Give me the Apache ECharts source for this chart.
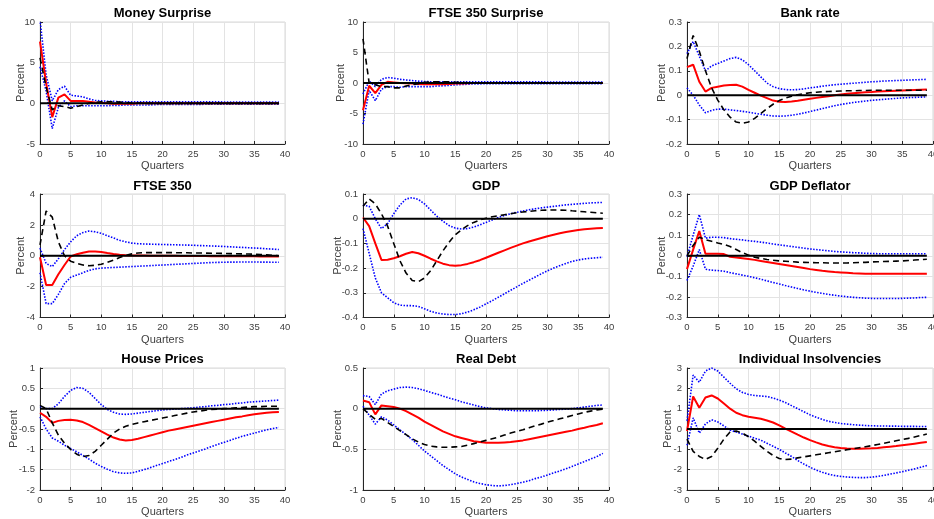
<!DOCTYPE html>
<html>
<head>
<meta charset="utf-8">
<script src="https://cdn.jsdelivr.net/npm/echarts@6/dist/echarts.min.js"></script>
<style>html,body{margin:0;padding:0;background:#fff}#c{width:934px;height:519px}</style>
</head>
<body>
<div id="c"></div>
<script>
const quarters = [0,1,2,3,4,5,6,7,8,9,10,11,12,13,14,15,16,17,18,19,20,21,22,23,24,25,26,27,28,29,30,31,32,33,34,35,36,37,38,39];

// Money Surprise
const msMed = [7.6,2.5,-1.7,0.7,1.1,0.3,0.3,0.3,0.2,0.1, 0.05,0,-0.05,-0.05,-0.05,-0.05,0,0,0,0, 0,0,0,0,0,0,0,0,0,0, 0,0,0,0,0,0,0,0,0,0];
const msUp = [10.3,3.5,0.3,1.7,2.1,1.0,0.9,0.8,0.55,0.35, 0.3,0.25,0.25,0.2,0.2,0.2,0.2,0.2,0.2,0.2, 0.2,0.2,0.2,0.2,0.2,0.2,0.2,0.2,0.2,0.2, 0.15,0.15,0.15,0.15,0.15,0.15,0.15,0.15,0.15,0.15];
const msLo = [4.5,1.5,-3.1,-0.5,0.3,-0.4,-0.3,-0.3,-0.3,-0.3, -0.3,-0.3,-0.25,-0.25,-0.2,-0.2,-0.2,-0.2,-0.2,-0.15, -0.15,-0.15,-0.15,-0.15,-0.15,-0.15,-0.15,-0.1,-0.1,-0.1, -0.1,-0.1,-0.1,-0.1,-0.1,-0.1,-0.1,-0.1,-0.1,-0.1];
const msDash = [5.6,2.0,-0.8,-0.3,-0.4,-0.6,-0.4,-0.2,0,0.1, 0.2,0.2,0.2,0.15,0.1,0.05,0.05,0,0,0, 0,0,0,0,0,0,0,0,0,0, 0,0,0,0,0,0,0,0,0,0];

// FTSE 350 Surprise
const fsMed = [-4.45,-0.45,-1.65,-0.3,0.2,0.1,0,-0.05,-0.1,-0.15, -0.2,-0.2,-0.2,-0.2,-0.15,-0.1,-0.1,-0.05,0,0, 0,0,0,0,0,0,0,0,0,0, 0,0,0,0,0,0,0,0,0,0];
const fsUp = [-1.8,0.3,-0.6,0.6,0.9,0.8,0.6,0.5,0.4,0.3, 0.25,0.2,0.2,0.2,0.2,0.2,0.2,0.2,0.2,0.2, 0.2,0.2,0.2,0.2,0.2,0.2,0.2,0.2,0.2,0.2, 0.15,0.15,0.15,0.15,0.15,0.15,0.15,0.15,0.15,0.15];
const fsLo = [-6.75,-1.2,-2.9,-1.0,-0.6,-0.6,-0.7,-0.6,-0.6,-0.6, -0.6,-0.6,-0.5,-0.45,-0.4,-0.3,-0.25,-0.2,-0.15,-0.15, -0.1,-0.1,-0.1,-0.1,-0.1,-0.1,-0.1,-0.1,-0.1,-0.1, -0.1,-0.1,-0.1,-0.1,-0.1,-0.1,-0.1,-0.1,-0.1,-0.1];
const fsDash = [7.25,0,-0.3,-0.6,-0.6,-0.8,-0.8,-0.5,-0.3,-0.1, 0.1,0.2,0.2,0.2,0.2,0.1,0.1,0.05,0,0, 0,0,0,0,0,0,0,0,0,0, 0,0,0,0,0,0,0,0,0,0];

// Bank rate
const brMed = [0.115,0.125,0.055,0.015,0.03,0.035,0.04,0.042,0.043,0.035, 0.022,0.01,-0.002,-0.012,-0.022,-0.027,-0.028,-0.026,-0.023,-0.019, -0.015,-0.011,-0.007,-0.004,0,0.003,0.006,0.008,0.01,0.012, 0.013,0.015,0.016,0.017,0.018,0.019,0.02,0.021,0.022,0.023];
const brUp = [0.17,0.22,0.16,0.1,0.12,0.13,0.14,0.15,0.155,0.145, 0.125,0.1,0.075,0.05,0.035,0.027,0.023,0.022,0.023,0.026, 0.03,0.033,0.037,0.04,0.043,0.045,0.047,0.049,0.051,0.053, 0.055,0.056,0.058,0.059,0.06,0.061,0.062,0.063,0.064,0.065];
const brLo = [0.03,0,-0.04,-0.072,-0.062,-0.057,-0.057,-0.06,-0.063,-0.066, -0.07,-0.074,-0.078,-0.082,-0.085,-0.086,-0.085,-0.082,-0.078,-0.073, -0.067,-0.061,-0.055,-0.049,-0.043,-0.038,-0.034,-0.03,-0.027,-0.024, -0.021,-0.019,-0.017,-0.015,-0.013,-0.011,-0.01,-0.009,-0.008,-0.007];
const brDash = [0.15,0.245,0.18,0.1,0.03,-0.02,-0.06,-0.09,-0.11,-0.115, -0.11,-0.095,-0.075,-0.055,-0.037,-0.022,-0.012,-0.004,0.002,0.006, 0.01,0.012,0.014,0.015,0.016,0.017,0.018,0.018,0.019,0.019, 0.02,0.02,0.02,0.02,0.02,0.02,0.02,0.02,0.02,0.02];

// FTSE 350
const ftMed = [-0.1,-1.9,-1.9,-1.2,-0.6,-0.05,0.1,0.2,0.28,0.28, 0.25,0.18,0.12,0.07,0.04,0.02,0.01,0.01,0,0, 0,0,0,-0.01,-0.01,-0.02,-0.02,-0.02,-0.03,-0.03, -0.03,-0.03,-0.04,-0.04,-0.04,-0.04,-0.05,-0.05,-0.05,-0.05];
const ftUp = [0.5,-0.5,-0.7,-0.2,0.4,0.9,1.3,1.5,1.6,1.55, 1.45,1.3,1.15,1.0,0.9,0.82,0.78,0.76,0.75,0.74, 0.73,0.72,0.71,0.7,0.69,0.68,0.66,0.65,0.63,0.62, 0.6,0.58,0.56,0.54,0.52,0.5,0.48,0.45,0.43,0.4];
const ftLo = [-1.1,-3.1,-3.1,-2.5,-1.8,-1.4,-1.25,-1.1,-0.95,-0.85, -0.8,-0.78,-0.76,-0.74,-0.72,-0.7,-0.68,-0.66,-0.64,-0.62, -0.6,-0.58,-0.56,-0.54,-0.52,-0.5,-0.48,-0.46,-0.44,-0.43, -0.42,-0.41,-0.41,-0.4,-0.4,-0.4,-0.41,-0.41,-0.42,-0.42];
const ftDash = [0.7,2.9,2.5,0.9,0,-0.35,-0.5,-0.6,-0.65,-0.62, -0.55,-0.42,-0.28,-0.12,0.02,0.12,0.18,0.2,0.2,0.2, 0.2,0.2,0.2,0.19,0.19,0.18,0.18,0.17,0.16,0.16, 0.15,0.14,0.13,0.12,0.11,0.1,0.08,0.06,0.03,0];

// GDP
const gdMed = [0.005,-0.03,-0.1,-0.167,-0.166,-0.16,-0.152,-0.142,-0.135,-0.14, -0.15,-0.162,-0.173,-0.182,-0.188,-0.19,-0.188,-0.183,-0.176,-0.168, -0.158,-0.148,-0.138,-0.128,-0.118,-0.109,-0.1,-0.092,-0.085,-0.078, -0.071,-0.065,-0.059,-0.054,-0.05,-0.046,-0.043,-0.041,-0.039,-0.038];
const gdUp = [0.055,0.05,0,-0.04,-0.02,0.02,0.055,0.08,0.085,0.078, 0.06,0.035,0.01,-0.01,-0.028,-0.038,-0.042,-0.04,-0.034,-0.025, -0.015,-0.005,0.005,0.013,0.02,0.026,0.031,0.036,0.04,0.044, 0.047,0.05,0.053,0.056,0.058,0.06,0.062,0.064,0.065,0.066];
const gdLo = [-0.04,-0.14,-0.24,-0.3,-0.32,-0.34,-0.35,-0.352,-0.352,-0.355, -0.365,-0.375,-0.382,-0.386,-0.388,-0.388,-0.385,-0.378,-0.369,-0.358, -0.345,-0.332,-0.318,-0.304,-0.29,-0.276,-0.262,-0.249,-0.236,-0.223, -0.211,-0.2,-0.19,-0.181,-0.173,-0.167,-0.163,-0.16,-0.158,-0.156];
const gdDash = [0.05,0.08,0.06,0.02,-0.03,-0.1,-0.17,-0.22,-0.25,-0.255, -0.24,-0.21,-0.17,-0.13,-0.095,-0.065,-0.045,-0.028,-0.015,-0.005, 0.002,0.008,0.012,0.016,0.02,0.024,0.027,0.03,0.032,0.034, 0.035,0.035,0.035,0.034,0.032,0.03,0.028,0.026,0.024,0.022];

// GDP Deflator
const dfMed = [-0.065,0.03,0.12,0.01,0.01,0.01,0.008,-0.005,-0.008,-0.012, -0.016,-0.02,-0.025,-0.03,-0.035,-0.04,-0.045,-0.05,-0.055,-0.06, -0.065,-0.069,-0.073,-0.076,-0.079,-0.081,-0.083,-0.085,-0.086,-0.087, -0.088,-0.088,-0.088,-0.088,-0.088,-0.088,-0.088,-0.088,-0.088,-0.087];
const dfUp = [-0.005,0.1,0.2,0.085,0.09,0.09,0.088,0.083,0.08,0.077, 0.073,0.07,0.066,0.062,0.057,0.053,0.049,0.045,0.041,0.037, 0.033,0.03,0.027,0.024,0.021,0.019,0.017,0.015,0.014,0.012, 0.011,0.01,0.01,0.01,0.01,0.01,0.01,0.01,0.01,0.01];
const dfLo = [-0.12,-0.05,0.03,-0.065,-0.07,-0.072,-0.075,-0.082,-0.088,-0.094, -0.1,-0.107,-0.114,-0.122,-0.13,-0.137,-0.145,-0.152,-0.159,-0.166, -0.172,-0.178,-0.183,-0.188,-0.192,-0.196,-0.199,-0.202,-0.204,-0.206, -0.207,-0.208,-0.208,-0.208,-0.208,-0.207,-0.206,-0.205,-0.203,-0.202];
const dfDash = [0,0.05,0.09,0.078,0.07,0.062,0.055,0.045,0.03,0.015, 0.003,-0.007,-0.013,-0.018,-0.022,-0.025,-0.027,-0.029,-0.031,-0.032, -0.033,-0.034,-0.034,-0.035,-0.035,-0.035,-0.035,-0.034,-0.033,-0.032, -0.03,-0.029,-0.028,-0.027,-0.026,-0.025,-0.023,-0.021,-0.019,-0.017];

// House Prices
const hpMed = [-0.1,-0.2,-0.35,-0.3,-0.28,-0.27,-0.29,-0.33,-0.4,-0.48, -0.56,-0.64,-0.71,-0.76,-0.78,-0.77,-0.74,-0.7,-0.66,-0.62, -0.58,-0.54,-0.51,-0.48,-0.45,-0.42,-0.39,-0.36,-0.33,-0.3, -0.27,-0.24,-0.21,-0.19,-0.16,-0.14,-0.12,-0.1,-0.09,-0.08];
const hpUp = [0.05,0,0,0.12,0.3,0.45,0.52,0.5,0.4,0.25, 0.1,-0.02,-0.09,-0.13,-0.14,-0.13,-0.11,-0.09,-0.07,-0.05, -0.03,-0.02,-0.01,0,0.01,0.02,0.04,0.05,0.07,0.08, 0.1,0.11,0.13,0.14,0.16,0.17,0.18,0.19,0.2,0.21];
const hpLo = [-0.2,-0.5,-0.72,-0.8,-0.9,-0.98,-1.06,-1.15,-1.24,-1.34, -1.42,-1.49,-1.55,-1.58,-1.59,-1.58,-1.54,-1.5,-1.45,-1.4, -1.35,-1.3,-1.25,-1.2,-1.14,-1.09,-1.04,-0.99,-0.93,-0.88, -0.83,-0.78,-0.73,-0.68,-0.64,-0.6,-0.56,-0.52,-0.49,-0.46];
const hpDash = [0.08,0,-0.35,-0.65,-0.85,-1.0,-1.12,-1.18,-1.15,-1.05, -0.9,-0.75,-0.6,-0.5,-0.43,-0.39,-0.35,-0.32,-0.29,-0.26, -0.23,-0.2,-0.17,-0.14,-0.11,-0.08,-0.06,-0.04,-0.02,-0.01, 0,0.01,0.02,0.03,0.04,0.05,0.05,0.06,0.06,0.06];

// Real Debt
const rdMed = [0.1,0.08,-0.07,0.04,0.03,0.02,0,-0.03,-0.07,-0.11, -0.16,-0.2,-0.24,-0.28,-0.31,-0.34,-0.36,-0.38,-0.4,-0.41, -0.42,-0.42,-0.42,-0.415,-0.41,-0.4,-0.39,-0.375,-0.36,-0.345, -0.33,-0.315,-0.3,-0.285,-0.27,-0.25,-0.235,-0.215,-0.2,-0.18];
const rdUp = [0.16,0.15,0.05,0.18,0.22,0.24,0.26,0.265,0.26,0.245, 0.225,0.2,0.18,0.155,0.13,0.11,0.085,0.065,0.045,0.025, 0.01,0,-0.01,-0.015,-0.02,-0.025,-0.025,-0.025,-0.025,-0.023, -0.02,-0.015,-0.01,-0.005,0,0.01,0.02,0.03,0.04,0.045];
const rdLo = [0.03,-0.08,-0.19,-0.1,-0.14,-0.2,-0.26,-0.32,-0.38,-0.45, -0.52,-0.58,-0.64,-0.7,-0.75,-0.8,-0.84,-0.87,-0.9,-0.92, -0.935,-0.945,-0.95,-0.945,-0.935,-0.92,-0.905,-0.885,-0.86,-0.84, -0.815,-0.79,-0.765,-0.74,-0.71,-0.68,-0.65,-0.62,-0.59,-0.55];
const rdDash = [0,-0.07,-0.13,-0.12,-0.17,-0.22,-0.27,-0.32,-0.37,-0.41, -0.44,-0.46,-0.47,-0.475,-0.475,-0.47,-0.465,-0.45,-0.43,-0.41, -0.39,-0.37,-0.35,-0.325,-0.3,-0.28,-0.26,-0.235,-0.21,-0.19, -0.165,-0.145,-0.125,-0.105,-0.085,-0.065,-0.045,-0.03,-0.015,-0.005];

// Individual Insolvencies
const iiMed = [-0.1,1.6,1.05,1.55,1.65,1.5,1.25,1.0,0.8,0.68, 0.6,0.55,0.5,0.42,0.32,0.18,0.02,-0.13,-0.28,-0.42, -0.55,-0.66,-0.76,-0.84,-0.9,-0.94,-0.96,-0.97,-0.97,-0.96, -0.95,-0.93,-0.9,-0.87,-0.84,-0.8,-0.76,-0.72,-0.68,-0.64];
const iiUp = [0.4,2.65,2.3,2.85,3.0,2.85,2.55,2.25,1.98,1.8, 1.7,1.65,1.62,1.6,1.52,1.42,1.3,1.15,1.0,0.85, 0.7,0.58,0.47,0.38,0.32,0.27,0.24,0.21,0.19,0.17, 0.16,0.15,0.15,0.14,0.14,0.13,0.13,0.13,0.12,0.12];
const iiLo = [-0.8,0.55,-0.2,0.25,0.45,0.35,0.15,-0.05,-0.15,-0.25, -0.35,-0.45,-0.55,-0.7,-0.85,-1.0,-1.18,-1.35,-1.55,-1.72, -1.88,-2.02,-2.13,-2.22,-2.29,-2.33,-2.36,-2.38,-2.39,-2.39, -2.37,-2.33,-2.28,-2.22,-2.16,-2.1,-2.03,-1.96,-1.88,-1.8];
const iiDash = [-0.5,-1.1,-1.35,-1.5,-1.35,-0.95,-0.5,-0.15,-0.1,-0.2, -0.38,-0.6,-0.85,-1.1,-1.3,-1.45,-1.5,-1.48,-1.42,-1.37, -1.32,-1.27,-1.22,-1.17,-1.12,-1.07,-1.02,-0.97,-0.92,-0.87, -0.82,-0.76,-0.7,-0.64,-0.58,-0.52,-0.46,-0.39,-0.32,-0.25];

const titles = ['Money Surprise','FTSE 350 Surprise','Bank rate','FTSE 350','GDP','GDP Deflator','House Prices','Real Debt','Individual Insolvencies'];
const yMins = [-5,-10,-0.2,-4,-0.4,-0.3,-2,-1,-3];
const yMaxs = [10,10,0.3,4,0.1,0.3,1,0.5,3];
const yIntervals = [5,5,0.1,2,0.1,0.1,0.5,0.5,1];
const medians = [msMed,fsMed,brMed,ftMed,gdMed,dfMed,hpMed,rdMed,iiMed];
const uppers = [msUp,fsUp,brUp,ftUp,gdUp,dfUp,hpUp,rdUp,iiUp];
const lowers = [msLo,fsLo,brLo,ftLo,gdLo,dfLo,hpLo,rdLo,iiLo];
const dashes = [msDash,fsDash,brDash,ftDash,gdDash,dfDash,hpDash,rdDash,iiDash];

// layout
const colLeft = [40, 363, 687];
const colWidth = [245, 246, 246];
const rowTop = [22, 194, 368];
const rowHeight = [122, 123.5, 122];
const nameGaps = [14, 17, 19.5, 14, 19.5, 19.5, 20.5, 19.5, 13.5];
const titleOffsets = [15, 14, 15];

const textColor = '#262626';
const font = 'Liberation Sans, Arial, Helvetica, sans-serif';

const grids = [], xAxes = [], yAxes = [], series = [], titleOpts = [];
const pair = arr => quarters.map((q, i) => [q, arr[i]]);
const zeros = quarters.map(q => [q, 0]);

for (let k = 0; k < 9; k++) {
  const r = Math.floor(k / 3), c = k % 3;
  grids.push({left: colLeft[c], top: rowTop[r], width: colWidth[c], height: rowHeight[r],
    containLabel: false, outerBoundsMode: 'none',
    show: true, borderColor: '#d9d9d9', borderWidth: 1, backgroundColor: '#fff'});
  xAxes.push({type: 'value', gridIndex: k, min: 0, max: 40, interval: 5,
    name: 'Quarters', nameLocation: 'middle', nameGap: 16.5, nameMoveOverlap: false,
    nameTextStyle: {fontSize: 11, color: '#404040', fontFamily: font},
    axisLine: {show: true, onZero: false, lineStyle: {color: textColor, width: 1}},
    axisTick: {show: true, inside: true, length: 3, lineStyle: {color: textColor}},
    axisLabel: {fontSize: 9.5, color: '#404040', fontFamily: font, margin: 5, hideOverlap: false},
    splitLine: {show: true, lineStyle: {color: '#e3e3e3', width: 1}}});
  yAxes.push({type: 'value', gridIndex: k, min: yMins[k], max: yMaxs[k], interval: yIntervals[k],
    name: 'Percent', nameLocation: 'middle', nameGap: nameGaps[k], nameMoveOverlap: false,
    nameTextStyle: {fontSize: 11, color: '#404040', fontFamily: font},
    axisLine: {show: true, onZero: false, lineStyle: {color: textColor, width: 1}},
    axisTick: {show: true, inside: true, length: 3, lineStyle: {color: textColor}},
    axisLabel: {fontSize: 9.5, color: '#404040', fontFamily: font, margin: 5,
      formatter: v => String(Math.round(v * 10) / 10)},
    splitLine: {show: true, lineStyle: {color: '#e3e3e3', width: 1}}});
  titleOpts.push({text: titles[k], left: colLeft[c] + colWidth[c] / 2, top: rowTop[r] - titleOffsets[r],
    textAlign: 'center', padding: 0,
    textStyle: {fontSize: 13, fontWeight: 'bold', color: '#000', fontFamily: font}});
  const base = {type: 'line', xAxisIndex: k, yAxisIndex: k, showSymbol: false, symbol: 'none', animation: false, silent: true};
  series.push(Object.assign({}, base, {data: pair(uppers[k]), lineStyle: {color: '#0000ff', width: 1.6, type: [1.5, 1.5]}}));
  series.push(Object.assign({}, base, {data: pair(lowers[k]), lineStyle: {color: '#0000ff', width: 1.6, type: [1.5, 1.5]}}));
  series.push(Object.assign({}, base, {data: pair(medians[k]), lineStyle: {color: '#ff0000', width: 2}}));
  series.push(Object.assign({}, base, {data: pair(dashes[k]), lineStyle: {color: '#000', width: 1.6, type: [6, 4]}}));
  series.push(Object.assign({}, base, {data: zeros, lineStyle: {color: '#000', width: 2}}));
}

const chart = echarts.init(document.getElementById('c'), null, {renderer: 'canvas'});
chart.setOption({
  animation: false,
  backgroundColor: '#fff',
  title: titleOpts,
  grid: grids,
  xAxis: xAxes,
  yAxis: yAxes,
  series: series
});
</script>
</body>
</html>
